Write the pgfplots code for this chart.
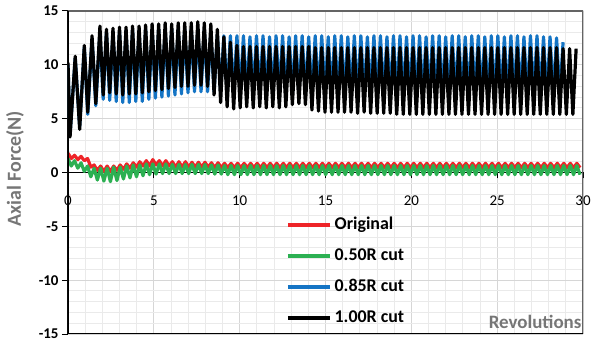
\documentclass[border=0pt]{standalone}
\usepackage{fontspec}
\setmainfont{Carlito}
\usepackage{pgfplots}
\usepackage{pgfplotstable}
\pgfplotsset{compat=1.18}
\definecolor{cred}{RGB}{238,36,40}
\definecolor{cgreen}{RGB}{44,176,82}
\definecolor{cblue}{RGB}{20,116,196}
\definecolor{labgray}{RGB}{118,118,118}
\definecolor{majgrid}{RGB}{214,214,214}
\definecolor{mingrid}{RGB}{234,234,234}
\definecolor{framegray}{RGB}{100,100,100}

\pgfplotstableread{
x red green
0.00 1.80 1.30
0.19 1.30 0.60
0.38 1.60 1.10
0.57 1.20 0.40
0.76 1.50 0.90
0.95 1.10 0.10
1.14 1.30 0.60
1.33 0.50 -0.40
1.52 0.70 0.40
1.71 0.20 -0.70
1.90 0.60 0.40
2.09 0.10 -0.80
2.28 0.60 0.40
2.47 0.10 -0.85
2.66 0.60 0.50
2.85 0.20 -0.75
3.04 0.70 0.50
3.23 0.30 -0.60
3.42 0.80 0.60
3.61 0.40 -0.50
3.80 0.90 0.70
3.99 0.50 -0.40
4.18 1.00 0.70
4.37 0.60 -0.30
4.56 1.10 0.80
4.75 0.60 -0.20
4.94 1.20 0.80
5.13 0.70 -0.15
5.32 1.10 0.80
5.51 0.60 -0.10
5.70 1.10 0.80
5.89 0.60 -0.10
6.08 1.00 0.75
6.27 0.50 -0.10
6.46 1.00 0.75
6.65 0.50 -0.10
6.84 1.00 0.75
7.03 0.50 -0.10
7.22 0.95 0.75
7.41 0.50 -0.10
7.60 0.95 0.75
7.79 0.50 -0.10
7.98 0.95 0.75
8.17 0.50 -0.10
8.36 0.90 0.70
8.55 0.45 -0.15
8.74 0.90 0.70
8.93 0.45 -0.15
9.12 0.85 0.65
9.31 0.45 -0.20
9.50 0.85 0.65
9.69 0.45 -0.20
9.88 0.85 0.65
10.07 0.45 -0.20
10.26 0.85 0.65
10.45 0.45 -0.20
10.64 0.85 0.65
10.83 0.45 -0.20
11.02 0.85 0.65
11.21 0.45 -0.20
11.40 0.85 0.65
11.59 0.45 -0.20
11.78 0.85 0.65
11.97 0.45 -0.20
12.16 0.85 0.65
12.35 0.45 -0.20
12.54 0.85 0.65
12.73 0.45 -0.20
12.92 0.85 0.65
13.11 0.45 -0.20
13.30 0.85 0.65
13.49 0.45 -0.20
13.68 0.85 0.65
13.87 0.45 -0.20
14.06 0.85 0.65
14.25 0.45 -0.20
14.44 0.85 0.65
14.63 0.45 -0.20
14.82 0.85 0.65
15.01 0.45 -0.20
15.20 0.85 0.65
15.39 0.45 -0.20
15.58 0.85 0.65
15.77 0.45 -0.20
15.96 0.85 0.65
16.15 0.45 -0.20
16.34 0.85 0.65
16.53 0.45 -0.20
16.72 0.85 0.65
16.91 0.45 -0.20
17.10 0.85 0.65
17.29 0.45 -0.20
17.48 0.85 0.65
17.67 0.45 -0.20
17.86 0.85 0.65
18.05 0.45 -0.20
18.24 0.85 0.65
18.43 0.45 -0.20
18.62 0.85 0.65
18.81 0.45 -0.20
19.00 0.85 0.65
19.19 0.45 -0.20
19.38 0.85 0.65
19.57 0.45 -0.20
19.76 0.85 0.65
19.95 0.45 -0.20
20.14 0.85 0.65
20.33 0.45 -0.20
20.52 0.85 0.65
20.71 0.45 -0.20
20.90 0.85 0.65
21.09 0.45 -0.20
21.28 0.85 0.65
21.47 0.45 -0.20
21.66 0.85 0.65
21.85 0.45 -0.20
22.04 0.85 0.65
22.23 0.45 -0.20
22.42 0.85 0.65
22.61 0.45 -0.20
22.80 0.85 0.65
22.99 0.45 -0.20
23.18 0.85 0.65
23.37 0.45 -0.20
23.56 0.85 0.65
23.75 0.45 -0.20
23.94 0.85 0.65
24.13 0.45 -0.20
24.32 0.85 0.65
24.51 0.45 -0.20
24.70 0.85 0.65
24.89 0.45 -0.20
25.08 0.85 0.65
25.27 0.45 -0.20
25.46 0.85 0.65
25.65 0.45 -0.20
25.84 0.85 0.65
26.03 0.45 -0.20
26.22 0.85 0.65
26.41 0.45 -0.20
26.60 0.85 0.65
26.79 0.45 -0.20
26.98 0.85 0.65
27.17 0.45 -0.20
27.36 0.85 0.65
27.55 0.45 -0.20
27.74 0.85 0.65
27.93 0.45 -0.20
28.12 0.85 0.65
28.31 0.45 -0.20
28.50 0.85 0.65
28.69 0.45 -0.20
28.88 0.85 0.65
29.07 0.45 -0.20
29.26 0.85 0.65
29.45 0.45 -0.20
29.64 0.85 0.65
29.83 0.45 -0.20
}\tabA

\pgfplotstableread{
x blue black
0.00 10.0 10.2
0.12 3.6 3.3
0.42 10.6 10.8
0.68 4.3 4.0
0.95 11.6 11.8
1.15 5.4 5.6
1.40 12.4 12.7
1.62 6.2 6.4
1.86 13.0 13.6
2.05 6.8 7.2
2.24 13.0 13.3
2.43 6.7 7.4
2.62 13.1 13.4
2.81 6.6 7.3
3.00 13.1 13.5
3.19 6.5 7.2
3.38 13.2 13.5
3.57 6.5 7.3
3.76 13.2 13.6
3.95 6.6 7.3
4.14 13.2 13.6
4.33 6.6 7.4
4.52 13.3 13.7
4.71 6.8 7.5
4.90 13.3 13.8
5.09 6.9 7.6
5.28 13.3 13.8
5.47 7.0 7.7
5.66 13.3 13.9
5.85 7.1 7.8
6.04 13.3 13.8
6.23 7.2 7.9
6.42 13.3 13.9
6.61 7.3 8.0
6.80 13.3 13.9
6.99 7.4 8.0
7.18 13.3 13.9
7.37 7.5 8.1
7.56 13.3 14.0
7.75 7.5 8.1
7.94 13.2 13.9
8.13 7.5 8.0
8.32 13.0 13.8
8.51 7.5 7.2
8.70 12.8 13.3
8.89 7.5 6.5
9.08 12.7 12.6
9.27 7.4 6.1
9.46 12.7 12.1
9.65 7.4 5.9
9.84 12.7 11.8
10.03 7.4 6.0
10.22 12.7 11.7
10.41 7.4 6.1
10.60 12.6 11.7
10.79 7.4 6.0
10.98 12.7 11.7
11.17 7.4 6.1
11.36 12.7 11.7
11.55 7.4 6.0
11.74 12.6 11.7
11.93 7.4 6.1
12.12 12.7 11.7
12.31 7.4 6.0
12.50 12.7 11.7
12.69 7.4 6.1
12.88 12.6 11.7
13.07 7.4 6.3
13.26 12.7 11.7
13.45 7.4 6.4
13.64 12.7 11.7
13.83 7.4 6.3
14.02 12.6 11.7
14.21 7.3 5.8
14.40 12.7 11.6
14.59 7.3 5.7
14.78 12.7 11.6
14.97 7.3 5.6
15.16 12.6 11.6
15.35 7.3 5.6
15.54 12.7 11.6
15.73 7.3 5.6
15.92 12.7 11.6
16.11 7.3 5.6
16.30 12.6 11.6
16.49 7.3 5.6
16.68 12.7 11.6
16.87 7.3 5.5
17.06 12.7 11.6
17.25 7.3 5.6
17.44 12.6 11.6
17.63 7.3 5.5
17.82 12.7 11.6
18.01 7.3 5.5
18.20 12.7 11.6
18.39 7.2 5.5
18.58 12.6 11.6
18.77 7.2 5.5
18.96 12.7 11.6
19.15 7.2 5.4
19.34 12.7 11.6
19.53 7.2 5.4
19.72 12.6 11.6
19.91 7.2 5.4
20.10 12.7 11.6
20.29 7.2 5.4
20.48 12.7 11.6
20.67 7.2 5.4
20.86 12.6 11.6
21.05 7.2 5.4
21.24 12.7 11.6
21.43 7.2 5.4
21.62 12.7 11.6
21.81 7.2 5.4
22.00 12.6 11.6
22.19 7.2 5.4
22.38 12.7 11.6
22.57 7.2 5.4
22.76 12.7 11.6
22.95 7.2 5.4
23.14 12.6 11.6
23.33 7.2 5.4
23.52 12.7 11.6
23.71 7.2 5.4
23.90 12.7 11.6
24.09 7.2 5.4
24.28 12.6 11.6
24.47 7.2 5.4
24.66 12.7 11.6
24.85 7.2 5.4
25.04 12.7 11.6
25.23 7.2 5.4
25.42 12.6 11.6
25.61 7.2 5.4
25.80 12.7 11.6
25.99 7.2 5.4
26.18 12.7 11.6
26.37 7.2 5.4
26.56 12.6 11.6
26.75 7.2 5.4
26.94 12.7 11.6
27.13 7.2 5.4
27.32 12.7 11.6
27.51 7.2 5.4
27.70 12.6 11.6
27.89 7.2 5.4
28.08 12.6 11.6
28.27 7.2 5.4
28.46 12.5 11.6
28.65 7.3 5.4
28.84 12.1 11.5
29.03 nan 5.4
29.22 nan 11.5
29.41 nan 5.4
29.60 nan 11.5
}\tabB

\begin{document}
\begin{tikzpicture}
\begin{axis}[
  scale only axis, width=515bp, height=323bp,
  xmin=0, xmax=30, ymin=-15, ymax=15,
  axis x line=middle, axis y line=left,
  hide obscured x ticks=false,
  axis line style={-, black, line width=1.3bp},
  xtick={0,5,10,15,20,25,30}, xticklabels={0,5,10,15,20,25,30},
  ytick={-15,-10,-5,0,5,10,15}, yticklabels={-15,-10,-5,0,5,10,15},
  minor x tick num=4, minor y tick num=4,
  grid=both,
  major grid style={color=majgrid, line width=1bp},
  minor grid style={color=mingrid, line width=0.9bp},
  tick align=outside, major tick length=6bp, minor tick length=0bp,
  tick style={black, line width=1bp},
  xticklabel style={font=\fontsize{15}{15}\selectfont, yshift=-14bp},
  yticklabel style={font=\bfseries\fontsize{15}{15}\selectfont},
  xlabel={Revolutions}, ylabel={Axial Force(N)},
  every axis y label/.style={at={(axis description cs:-0.103,0.511)}, rotate=90, anchor=center, font=\bfseries\fontsize{20}{20}\selectfont, text=labgray},
  every axis x label/.style={at={(axis description cs:0.907,0.037)}, anchor=center, font=\bfseries\fontsize{19}{19}\selectfont, text=labgray},
  legend style={draw=none, fill=none, at={(axis description cs:0.423,0.365)}, anchor=north west,
    font=\bfseries\fontsize{18}{18}\selectfont, inner sep=0pt, row sep=14bp, column sep=3bp,
    nodes={inner sep=0pt, text height=13bp, text depth=4bp}},
  legend cell align=left,
  legend image code/.code={\draw[#1, line width=3.6bp] (0bp,0bp) -- (42bp,0bp);},
  every axis plot/.append style={line width=3.2bp, line join=round},
]
\addplot[cred] table[x=x, y=red] {\tabA};
\addlegendentry{Original}
\addplot[cgreen] table[x=x, y=green] {\tabA};
\addlegendentry{0.50R cut}
\addplot[cblue] table[x=x, y=blue] {\tabB};
\addlegendentry{0.85R cut}
\addplot[black] table[x=x, y=black] {\tabB};
\addlegendentry{1.00R cut}
\draw[framegray, line width=1.2bp] (rel axis cs:0,0) rectangle (rel axis cs:1,1);
\draw[black, line width=1.3bp] (rel axis cs:0,0) -- (rel axis cs:1,0);
\draw[black, line width=1.3bp] (rel axis cs:0,0) -- (rel axis cs:0,1);
\end{axis}
\pgfresetboundingbox
\useasboundingbox (-68bp,-7bp) rectangle (524bp,334bp);
\end{tikzpicture}
\end{document}
